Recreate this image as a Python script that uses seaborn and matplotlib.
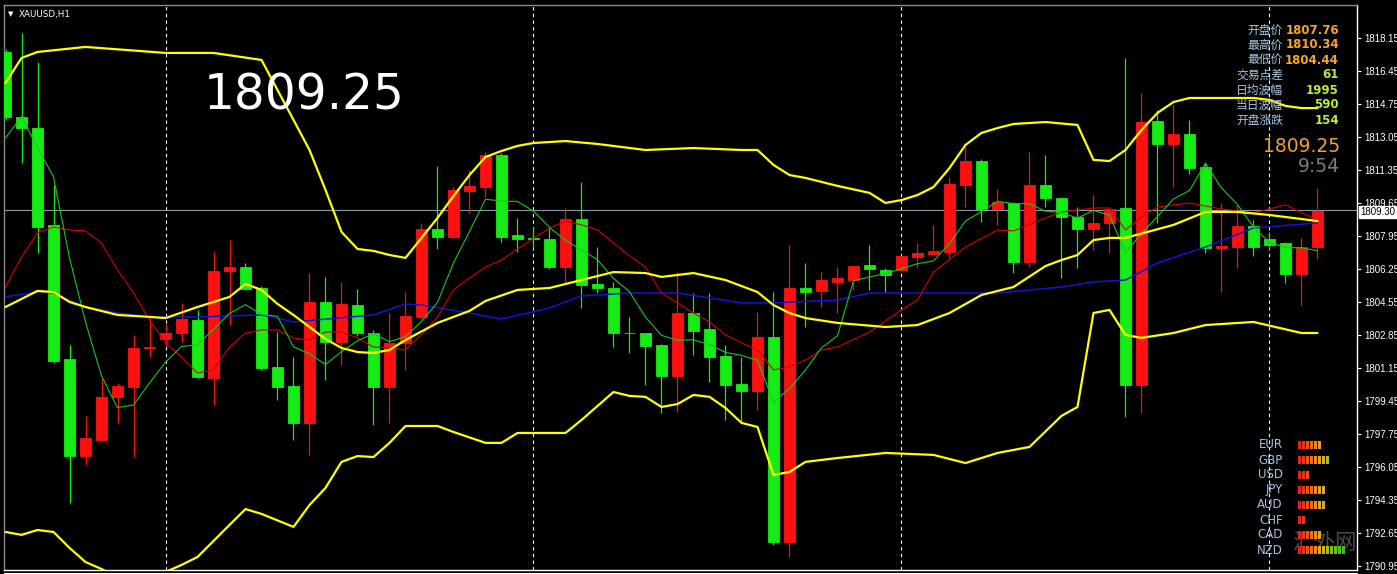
import numpy as np
import pandas as pd
import seaborn as sns
from matplotlib import pyplot as plt

sns.set_theme(style="dark", rc={"axes.facecolor": "black", "figure.facecolor": "black"})
plt.rcParams['font.family'] = ['Noto Sans CJK SC', 'DejaVu Sans']

# XAUUSD H1 candles (open, high, low, close)
opens = [1817.43, 1814.08, 1813.51, 1808.52, 1801.61, 1796.61, 1797.44, 1799.65, 1800.17, 1802.20,
         1802.64, 1802.95, 1803.62, 1800.63, 1806.15, 1806.35, 1805.27, 1801.20, 1800.22, 1798.31,
         1804.55, 1802.49, 1804.39, 1802.95, 1800.17, 1802.44, 1803.78, 1808.31, 1807.90, 1810.27,
         1810.47, 1812.12, 1808.00, 1807.82, 1807.80, 1806.35, 1808.82, 1805.48, 1805.27, 1802.97,
         1802.95, 1802.33, 1800.74, 1803.98, 1803.16, 1801.77, 1800.32, 1799.96, 1802.75, 1792.18,
         1805.27, 1805.12, 1805.58, 1805.68, 1806.46, 1806.20, 1806.20, 1806.87, 1807.02, 1807.12,
         1810.58, 1811.81, 1809.34, 1809.65, 1806.61, 1810.58, 1809.91, 1808.93, 1808.31, 1808.62,
         1809.39, 1800.27, 1813.87, 1812.69, 1813.20, 1811.50, 1807.33, 1807.38, 1808.46, 1807.80,
         1807.59, 1805.99, 1807.38]
highs = [1817.60, 1818.41, 1816.91, 1810.58, 1802.33, 1798.68, 1800.63, 1800.38, 1802.85, 1803.72,
         1803.42, 1804.50, 1804.14, 1807.12, 1807.74, 1806.56, 1805.37, 1803.00, 1801.72, 1806.04,
         1805.84, 1805.58, 1805.22, 1803.11, 1803.98, 1805.06, 1808.62, 1811.56, 1810.47, 1811.35,
         1812.28, 1812.22, 1808.88, 1808.41, 1808.36, 1809.39, 1810.73, 1807.38, 1805.58, 1803.78,
         1802.97, 1802.38, 1806.10, 1805.01, 1805.01, 1802.33, 1801.72, 1804.03, 1805.06, 1807.49,
         1806.56, 1806.10, 1806.35, 1806.45, 1807.49, 1806.30, 1806.97, 1807.59, 1808.52, 1810.99,
         1812.53, 1811.92, 1810.37, 1809.70, 1812.28, 1812.12, 1809.96, 1809.44, 1810.06, 1809.44,
         1817.12, 1815.32, 1814.44, 1814.70, 1813.93, 1811.71, 1809.65, 1809.55, 1808.77, 1808.16,
         1807.62, 1807.85, 1810.42]
lows = [1813.93, 1811.71, 1807.07, 1801.41, 1794.19, 1796.16, 1797.39, 1798.31, 1796.56, 1801.72,
        1802.23, 1802.49, 1800.63, 1799.24, 1803.36, 1805.17, 1801.05, 1799.50, 1797.44, 1796.67,
        1800.53, 1801.30, 1802.80, 1798.21, 1798.31, 1801.05, 1803.67, 1807.28, 1807.85, 1809.13,
        1809.96, 1807.64, 1807.12, 1807.33, 1806.25, 1805.53, 1804.24, 1805.01, 1802.23, 1801.92,
        1800.27, 1798.83, 1798.88, 1801.82, 1800.43, 1798.47, 1798.31, 1798.99, 1792.03, 1791.41,
        1803.26, 1804.29, 1803.98, 1805.17, 1805.17, 1805.01, 1806.15, 1806.30, 1806.97, 1806.82,
        1809.44, 1808.67, 1808.52, 1806.04, 1806.35, 1809.44, 1805.79, 1806.30, 1807.23, 1807.07,
        1798.62, 1798.83, 1808.62, 1810.47, 1811.14, 1807.07, 1805.06, 1806.30, 1806.92, 1807.23,
        1805.53, 1804.39, 1806.77]
closes = [1814.08, 1813.51, 1808.41, 1801.51, 1796.61, 1797.54, 1799.65, 1800.22, 1802.18, 1802.25,
          1802.95, 1803.67, 1800.68, 1806.15, 1806.35, 1805.22, 1801.15, 1800.17, 1798.31, 1804.55,
          1802.49, 1804.45, 1802.95, 1800.17, 1802.44, 1803.83, 1808.31, 1807.90, 1810.32, 1810.53,
          1812.12, 1807.90, 1807.80, 1807.78, 1806.35, 1808.82, 1805.42, 1805.27, 1802.95, 1802.93,
          1802.28, 1800.74, 1803.98, 1803.05, 1801.72, 1800.27, 1799.96, 1802.75, 1792.18, 1805.27,
          1805.06, 1805.68, 1805.79, 1806.40, 1806.25, 1805.94, 1806.92, 1807.07, 1807.18, 1810.63,
          1811.81, 1809.34, 1809.70, 1806.61, 1810.58, 1809.91, 1808.93, 1808.31, 1808.62, 1809.34,
          1800.27, 1813.82, 1812.69, 1813.20, 1811.45, 1807.33, 1807.43, 1808.46, 1807.38, 1807.49,
          1805.99, 1807.38, 1809.25]

# fast MA (green), one value per candle
ma_fast = [1813.00, 1814.10, 1812.50, 1811.00, 1806.82, 1803.52, 1800.74, 1799.11, 1799.24, 1800.37,
           1801.45, 1802.25, 1802.35, 1803.14, 1803.96, 1804.41, 1803.91, 1803.81, 1802.24, 1801.88,
           1801.33, 1801.99, 1802.55, 1802.92, 1802.50, 1802.77, 1803.54, 1804.53, 1806.56, 1808.18,
           1809.84, 1809.75, 1809.73, 1809.23, 1808.39, 1807.73, 1807.23, 1806.73, 1805.76, 1805.08,
           1803.77, 1802.83, 1802.58, 1802.60, 1802.35, 1801.95, 1801.80, 1801.55, 1799.38, 1800.09,
           1801.04, 1802.19, 1802.80, 1805.64, 1805.84, 1806.01, 1806.26, 1806.52, 1806.67, 1807.55,
           1808.72, 1809.21, 1809.73, 1809.62, 1809.61, 1809.23, 1809.15, 1808.87, 1809.27, 1809.02,
           1807.09, 1808.07, 1808.95, 1809.86, 1810.29, 1811.70, 1810.42, 1809.57, 1808.41, 1807.62,
           1807.35, 1807.34, 1807.19]

# slower MA (red), read at its turning points
ma_mid_idx = [0, 1, 2, 3, 4, 5, 6, 7, 8, 9, 10, 11, 12, 13, 14, 15, 16, 17, 18, 19, 20, 21, 22, 23, 24,
              25, 26, 27, 28, 29, 30, 31, 32, 34, 35, 36, 37, 38, 39, 40, 41, 42, 43, 44, 45, 46, 47,
              48, 49, 50, 51, 52, 54, 56, 57, 58, 60, 62, 63, 65, 66, 68, 69, 70, 71, 72, 74, 76, 78,
              80, 82]
ma_mid_val = [1805.32, 1806.87, 1808.11, 1808.41, 1808.26, 1808.21, 1807.59, 1806.20, 1805.01, 1803.62,
              1802.44, 1801.72, 1800.89, 1801.05, 1802.23, 1802.95, 1803.11, 1803.11, 1802.69, 1802.59,
              1803.00, 1803.00, 1802.69, 1802.23, 1802.18, 1802.08, 1802.85, 1803.78, 1805.17, 1805.79,
              1806.35, 1806.71, 1807.28, 1808.36, 1808.72, 1808.52, 1808.26, 1807.59, 1806.92, 1806.35,
              1805.01, 1804.50, 1803.98, 1803.52, 1802.85, 1802.44, 1802.08, 1801.05, 1801.20, 1801.56,
              1802.08, 1802.23, 1803.00, 1804.14, 1804.65, 1806.09, 1807.38, 1808.26, 1808.21, 1808.88,
              1809.19, 1809.39, 1809.39, 1808.26, 1808.93, 1809.44, 1809.65, 1809.34, 1809.13, 1809.55,
              1808.77]

# long MA (blue)
ma_slow_idx = [0, 2, 3, 5, 7, 9, 12, 16, 18, 23, 25, 26, 29, 31, 34, 36, 39, 42, 46, 48, 52, 54, 58,
               62, 66, 68, 70, 72, 75, 78, 82]
ma_slow_val = [1804.81, 1805.06, 1805.01, 1804.29, 1803.98, 1803.78, 1803.78, 1803.88, 1803.52, 1803.88,
               1804.45, 1804.39, 1803.98, 1803.67, 1804.24, 1804.86, 1805.01, 1805.01, 1804.50, 1804.50,
               1804.65, 1805.01, 1805.01, 1805.01, 1805.32, 1805.58, 1805.68, 1806.56, 1807.38, 1808.36,
               1808.62]

# Bollinger bands (yellow)
bb_up_idx = [0, 1, 2, 5, 10, 13, 16, 17, 18, 19, 20, 21, 22, 23, 24, 25, 26, 27, 28, 29, 30, 31, 32,
             33, 35, 37, 40, 43, 46, 47, 48, 49, 50, 52, 54, 55, 56, 57, 58, 59, 60, 61, 62, 63, 65,
             67, 68, 69, 70, 71, 72, 73, 74, 78, 79, 80, 81, 82]
bb_up_val = [1815.83, 1817.12, 1817.43, 1817.69, 1817.38, 1817.38, 1817.02, 1815.47, 1813.93, 1812.38,
             1810.32, 1808.16, 1807.28, 1807.18, 1806.97, 1806.82, 1807.85, 1808.88, 1810.01, 1811.09,
             1812.02, 1812.33, 1812.59, 1812.74, 1812.84, 1812.69, 1812.38, 1812.48, 1812.38, 1812.38,
             1811.61, 1811.09, 1810.94, 1810.53, 1810.17, 1809.65, 1809.80, 1810.06, 1810.47, 1811.45,
             1812.64, 1813.26, 1813.51, 1813.72, 1813.82, 1813.67, 1811.87, 1811.81, 1812.38, 1813.41,
             1814.29, 1814.85, 1815.06, 1815.06, 1814.96, 1814.65, 1814.54, 1814.54]
bb_mid_idx = [0, 2, 3, 4, 5, 7, 9, 10, 12, 14, 15, 16, 17, 18, 19, 20, 21, 22, 23, 24, 25, 27, 28, 29,
              30, 32, 34, 36, 38, 40, 41, 43, 45, 47, 48, 49, 50, 52, 55, 57, 59, 61, 63, 65, 66, 67,
              68, 69, 70, 73, 75, 77, 79, 82]
bb_mid_val = [1804.29, 1805.12, 1805.06, 1804.55, 1804.29, 1803.88, 1803.78, 1803.72, 1804.29, 1804.81,
              1805.48, 1805.17, 1804.45, 1803.88, 1803.26, 1802.64, 1802.18, 1801.97, 1801.92, 1802.08,
              1802.59, 1803.47, 1803.78, 1804.09, 1804.60, 1805.17, 1805.27, 1805.68, 1806.09, 1806.04,
              1805.84, 1806.04, 1805.68, 1805.06, 1804.39, 1803.98, 1803.72, 1803.47, 1803.26, 1803.36,
              1803.98, 1804.91, 1805.32, 1806.40, 1806.71, 1806.97, 1807.74, 1807.85, 1807.85, 1808.52,
              1809.19, 1809.19, 1809.03, 1808.72]
bb_lo_idx = [0, 1, 2, 3, 4, 5, 6, 8, 9, 10, 11, 12, 14, 15, 16, 18, 19, 20, 21, 22, 23, 24, 25, 27, 28,
             30, 31, 32, 35, 36, 38, 39, 40, 41, 42, 43, 44, 45, 46, 47, 48, 49, 50, 52, 55, 58, 60,
             62, 64, 66, 67, 68, 69, 70, 71, 73, 75, 78, 81, 82]
bb_lo_val = [1792.70, 1792.55, 1792.80, 1792.70, 1791.88, 1791.15, 1790.79, 1789.97, 1789.97, 1790.64,
             1791.00, 1791.41, 1793.06, 1793.88, 1793.63, 1792.96, 1794.09, 1794.97, 1796.31, 1796.61,
             1796.56, 1797.29, 1798.16, 1798.16, 1797.85, 1797.29, 1797.29, 1797.80, 1797.80, 1798.47,
             1799.91, 1799.71, 1799.66, 1799.14, 1799.29, 1799.76, 1799.66, 1799.09, 1798.32, 1798.11,
             1795.64, 1795.79, 1796.31, 1796.51, 1796.77, 1796.67, 1796.25, 1796.77, 1797.08, 1798.68,
             1799.14, 1803.98, 1804.14, 1802.85, 1802.70, 1802.95, 1803.36, 1803.52, 1802.95, 1802.95]

price_ticks = [1790.95, 1792.65, 1794.35, 1796.05, 1797.75, 1799.45, 1801.15, 1802.85, 1804.55,
               1806.25, 1807.95, 1809.65, 1811.35, 1813.05, 1814.75, 1816.45, 1818.15]
grid_idx = [10, 33, 56, 79]
bid_price = 1809.30
last_price = "1809.25"
timer = "9:54"

info_labels = ["开盘价", "最高价", "最低价", "交易点差", "日均波幅", "当日波幅", "开盘涨跌"]
info_values = ["1807.76", "1810.34", "1804.44", "61", "1995", "590", "154"]
info_colors = ["#f4a62a"] * 3 + ["#b4ee3c"] * 4

currencies = ["EUR", "GBP", "USD", "JPY", "AUD", "CHF", "CAD", "NZD"]
strength = [6, 8, 3, 7, 7, 2, 6, 12]
strength_colors = ["#e8221a", "#ea3418", "#ee5018", "#f06c1a", "#f08a1e", "#eca420", "#d0b420",
                   "#aebc20", "#8cc020", "#6cc020", "#52c020", "#3cc020"]

W, H = 1397, 574
fig = plt.figure(figsize=(W / 100, H / 100), dpi=100, facecolor="black")
ax = fig.add_axes([4 / W, 1 - 570 / H, (1357 - 4) / W, (570 - 5) / H])
ax.set_facecolor("black")
ax.grid(False)

df = pd.DataFrame({"o": opens, "h": highs, "l": lows, "c": closes})
df["i"] = np.arange(len(df))
df["col"] = np.where(df["c"] > df["o"], "#ff1010", "#14ee14")

for g in grid_idx:
    ax.axvline(g, color="white", linestyle=(0, (3, 3)), linewidth=0.8, zorder=0.5)
ax.axhline(bid_price, color="#8c98a4", linewidth=0.8, zorder=0.6)

ax.vlines(df["i"], df["l"], df["h"], colors=df["col"], linewidth=0.9, zorder=2)
ax.bar(df["i"], (df["c"] - df["o"]).abs(), bottom=df[["o", "c"]].min(axis=1), width=0.64,
       color=df["col"], edgecolor=df["col"], linewidth=0.6, zorder=3)

sns.lineplot(x=ma_slow_idx, y=ma_slow_val, ax=ax, color="#1414d8", linewidth=1.1,
             estimator=None, sort=False, zorder=4)
sns.lineplot(x=ma_mid_idx, y=ma_mid_val, ax=ax, color="#d40000", linewidth=0.8,
             estimator=None, sort=False, zorder=4)
sns.lineplot(x=df["i"], y=ma_fast, ax=ax, color="#18c818", linewidth=0.8,
             estimator=None, sort=False, zorder=4)
for bi, bv in [(bb_up_idx, bb_up_val), (bb_mid_idx, bb_mid_val), (bb_lo_idx, bb_lo_val)]:
    sns.lineplot(x=bi, y=bv, ax=ax, color="#ffff00", linewidth=1.6,
                 estimator=None, sort=False, zorder=5)

ax.set_xlim(-0.094, 84.47)
ax.set_ylim(1790.74, 1819.85)
ax.set_xticks([])
ax.set_xlabel("")
ax.set_ylabel("")
ax.yaxis.tick_right()
ax.set_yticks(price_ticks)
ax.set_yticklabels(["%.2f" % t for t in price_ticks])
ax.tick_params(axis="y", colors="white", labelcolor="white", length=3, width=0.8,
               pad=2, labelsize=7, direction="out")
for lbl in ax.get_yticklabels():
    lbl.set_fontfamily("Liberation Sans")
for side in ["right", "bottom"]:
    ax.spines[side].set_color("white")
    ax.spines[side].set_linewidth(1)
for side in ["left", "top"]:
    ax.spines[side].set_color("#8a8a8a")
    ax.spines[side].set_linewidth(1)

# overlay in pixel coordinates for the MT4 panels
ov = fig.add_axes([0, 0, 1, 1])
ov.set_xlim(0, W)
ov.set_ylim(H, 0)
ov.axis("off")
ov.plot([4, 1357], [573, 573], color="white", linewidth=0.8)

ov.text(11, 14, "▼", color="white", fontsize=5, ha="center", va="center", family=["DejaVu Sans"])
ov.text(19, 14, "XAUUSD,H1", color="white", fontsize=6.3, ha="left", va="center",
        family=["DejaVu Sans"])
ov.text(304, 96, last_price, color="white", fontsize=35, ha="center", va="center",
        family=["DejaVu Sans"])

for k, (lab, val, vc) in enumerate(zip(info_labels, info_values, info_colors)):
    y = 30 + 15 * k
    ov.text(1283, y, lab, color="#a8c6e6", fontsize=8.5, ha="right", va="center")
    ov.text(1339, y, val, color=vc, fontsize=8.5, fontweight="bold", ha="right", va="center",
            family=["DejaVu Sans"])
ov.text(1340, 147, last_price, color="#f0a030", fontsize=13.5, ha="right", va="center",
        family=["DejaVu Sans"])
ov.text(1340, 167, timer, color="#7c7c7c", fontsize=13.5, ha="right", va="center",
        family=["DejaVu Sans"])

ov.text(1360, 212, "%.2f" % bid_price, color="black", fontsize=7, ha="left", va="center",
        family=["Liberation Sans"],
        bbox=dict(boxstyle="square,pad=0.1", fc="white", ec="white"))

for r, cur in enumerate(currencies):
    ov.text(1283, 445 + 15 * r, cur, color="#a0c4e8", fontsize=8.5, ha="right", va="center",
            family=["DejaVu Sans"])

cax = fig.add_axes([1297.5 / W, 1 - 557.5 / H, 52 / W, 120 / H])
cax.set_xlim(-0.5, 12.5)
cax.set_ylim(7.5, -0.5)
cax.axis("off")
for r, n in enumerate(strength):
    cax.bar(np.arange(n), 0.47, bottom=r - 0.235, width=0.72, color=strength_colors[:n],
            edgecolor="none", linewidth=0)

ov.text(1324, 543, "汇外网", color="#5e5e5e", fontsize=15.5, ha="center", va="center", alpha=0.8)

fig.savefig("out.png", dpi=100, facecolor="black")
